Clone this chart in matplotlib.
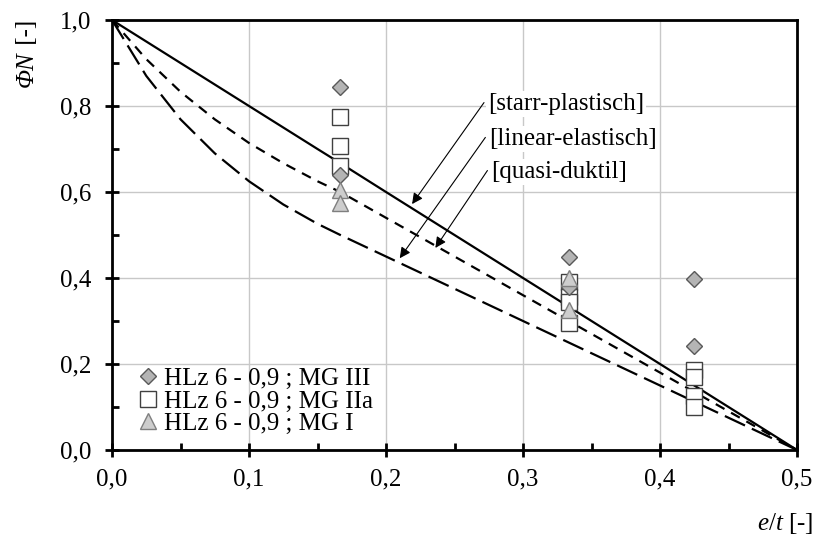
import matplotlib
matplotlib.use("Agg")
import matplotlib.pyplot as plt
from matplotlib.ticker import MultipleLocator, FuncFormatter
from matplotlib.transforms import offset_copy

plt.rcParams["font.family"] = ["Liberation Serif", "DejaVu Serif"]
plt.rcParams["mathtext.fontset"] = "custom"
plt.rcParams["mathtext.it"] = "Liberation Serif:italic"
plt.rcParams["mathtext.rm"] = "Liberation Serif"

FS = 18

# theoretical curves
et_curve = [0.0, 0.025, 0.05, 0.075, 0.1, 0.125, 0.15, 1 / 6, 0.2, 0.25, 0.3, 0.35, 0.4, 0.45, 0.5]
phi_starr = [1.0, 0.95, 0.9, 0.85, 0.8, 0.75, 0.7, 0.667, 0.6, 0.5, 0.4, 0.3, 0.2, 0.1, 0.0]
phi_linear = [1.0, 0.87, 0.769, 0.69, 0.625, 0.571, 0.526, 0.5, 0.45, 0.375, 0.3, 0.225, 0.15, 0.075, 0.0]
phi_quasi = [1.0, 0.909, 0.833, 0.769, 0.714, 0.667, 0.625, 0.6, 0.54, 0.45, 0.36, 0.27, 0.18, 0.09, 0.0]

# test results
et_mg3 = [1 / 6, 1 / 6, 1 / 3, 1 / 3, 0.425, 0.425]
phi_mg3 = [0.845, 0.64, 0.45, 0.38, 0.397, 0.242]
et_mg2a = [1 / 6, 1 / 6, 1 / 6, 1 / 3, 1 / 3, 1 / 3, 1 / 3, 0.425, 0.425, 0.425, 0.425]
phi_mg2a = [0.775, 0.707, 0.66, 0.39, 0.355, 0.345, 0.295, 0.185, 0.17, 0.125, 0.10]
et_mg1 = [1 / 6, 1 / 6, 1 / 3, 1 / 3]
phi_mg1 = [0.605, 0.575, 0.40, 0.325]

labels = ["HLz 6 - 0,9 ; MG III", "HLz 6 - 0,9 ; MG IIa", "HLz 6 - 0,9 ; MG I"]

fig = plt.figure(figsize=(8.19, 5.37), dpi=100, facecolor="white")
ax = fig.add_axes([0.1368, 0.162, 0.8364, 0.8007])

ax.plot(et_curve, phi_starr, color="black", lw=1.6, zorder=3)
ax.plot(et_curve, phi_quasi, color="black", lw=1.6, ls=(0, (4.5, 3.4)), zorder=3)
ax.plot(et_curve, phi_linear, color="black", lw=1.6, ls=(0, (10, 3.4)), zorder=3)

ax.plot(et_mg2a, phi_mg2a, ls="none", marker="s", ms=11.5, mfc="white", mec="#404040", mew=1.0,
        zorder=4, label=labels[1])
ax.plot(et_mg3, phi_mg3, ls="none", marker="D", ms=8.0, mfc="#b4b4b4", mec="#595959", mew=1.0,
        zorder=5, label=labels[0])
ax.plot(et_mg1, phi_mg1, ls="none", marker="^", ms=11.5, mfc="#cdcdcd", mec="#7f7f7f", mew=1.0,
        zorder=6, label=labels[2])

ax.set_xlim(0, 0.5)
ax.set_ylim(0, 1.0)
ax.xaxis.set_major_locator(MultipleLocator(0.1))
ax.xaxis.set_minor_locator(MultipleLocator(0.05))
ax.yaxis.set_major_locator(MultipleLocator(0.2))
ax.yaxis.set_minor_locator(MultipleLocator(0.1))
fmt = FuncFormatter(lambda v, p: f"{v:.1f}".replace(".", ","))
ax.xaxis.set_major_formatter(fmt)
ax.yaxis.set_major_formatter(fmt)
ax.grid(True, which="major", color="#c8c8c8", lw=1.0, zorder=0)
ax.set_axisbelow(True)
for s in ax.spines.values():
    s.set_linewidth(2.0)
    s.set_color("black")
    s.set_zorder(7)
ax.tick_params(which="major", direction="inout", length=10, width=2.0, labelsize=FS)
ax.tick_params(axis="x", which="major", pad=8)
ax.tick_params(axis="y", which="major", pad=10)
ax.tick_params(which="minor", direction="in", length=5, width=2.0)

# y label: italic "ΦN" followed by upright " [-]", rotated, starting at the top
t_unit = ax.text(-0.124, 1.0, " [-]", rotation=90, ha="center", va="top",
                 fontsize=FS, transform=ax.transAxes)
fig.canvas.draw()
h_unit = t_unit.get_window_extent().height * 72 / fig.dpi
ax.text(-0.124, 1.0, "ΦN", rotation=90, ha="center", va="top", fontsize=FS, style="italic",
        transform=offset_copy(ax.transAxes, fig=fig, y=-h_unit, units="points"))

ax.text(1.0234, -0.17, r"$\it{e/t}$ [-]", ha="right", va="center",
        fontsize=FS, transform=ax.transAxes)

# annotations: (text, text pos, arrow tip)
notes = [
    ("[starr-plastisch]", (0.2715, 0.808), (0.219, 0.572)),
    ("[linear-elastisch]", (0.2725, 0.727), (0.210, 0.446)),
    ("[quasi-duktil]", (0.274, 0.650), (0.236, 0.470)),
]
for txt, (tx, ty), (px, py) in notes:
    ax.annotate(
        "", xy=(px, py), xytext=(tx, ty),
        arrowprops=dict(arrowstyle="-|>", lw=0.8, color="black", mutation_scale=16,
                        shrinkA=0, shrinkB=0),
        zorder=8,
    )
    ax.text(tx + 0.003, ty - 0.004, txt, ha="left", va="center", fontsize=FS, zorder=8,
            bbox=dict(facecolor="white", edgecolor="none", pad=1.5))

handles, labs = ax.get_legend_handles_labels()
order = [labs.index(l) for l in labels]
ax.legend([handles[i] for i in order], [labs[i] for i in order],
          loc="lower left", bbox_to_anchor=(0.034, 0.035), frameon=False,
          fontsize=FS, handlelength=1.0, handletextpad=0.15, labelspacing=0.0,
          borderaxespad=0, borderpad=0)

fig.savefig("out.png", dpi=100, facecolor="white")
